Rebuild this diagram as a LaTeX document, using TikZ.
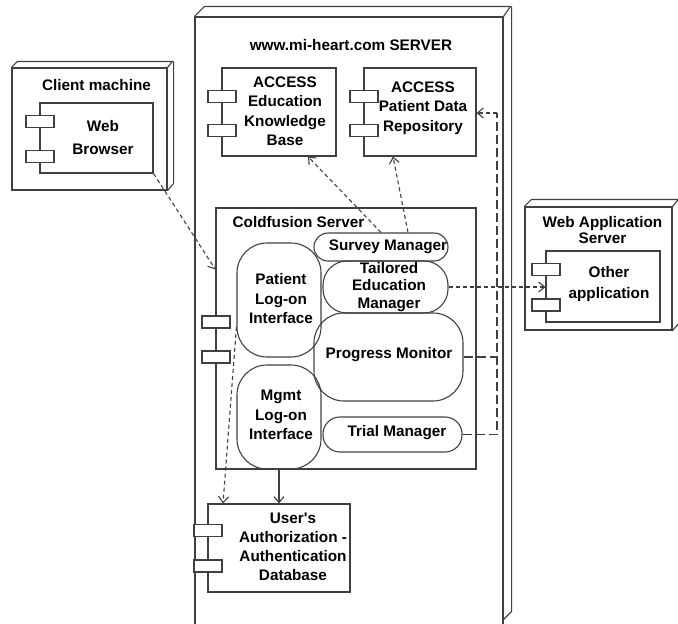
\documentclass[tikz,border=0pt]{standalone}
\usepackage{fontspec}
\setmainfont{Liberation Sans}
\usetikzlibrary{arrows.meta,positioning,calc}

\begin{document}
\begin{tikzpicture}[
    x=1pt, y=-1pt,
    lbl/.style={font=\bfseries\fontsize{15.3}{19.5}\selectfont, align=center, inner sep=0pt},
    face/.style={draw=black!75, line width=1.1pt},
    comp/.style={rectangle, draw=black!75, line width=1.1pt, inner sep=0pt},
    part/.style={rectangle, draw=black!75, line width=1.1pt, inner sep=0pt},
    tab/.style={rectangle, draw=black!75, fill=white, line width=1.1pt, minimum width=28, minimum height=12, inner sep=0pt},
    mgr/.style={rectangle, draw=black!75, line width=1.1pt, inner sep=0pt},
    dep/.style={-{Straight Barb[length=6pt,width=10pt]}, draw=black!75, line width=1.1pt, dash pattern=on 4pt off 3pt},
    link/.style={draw=black!75, line width=1.1pt, dash pattern=on 9pt off 4pt},
    use/.style={-{Straight Barb[length=6pt,width=10pt]}, draw=black!75, line width=1.1pt}
]
    \useasboundingbox (0,0) rectangle (678,624);

    % === Server node (3D box) ===
    \node[comp, minimum width=308, minimum height=623] (srv) at (349,328.5) {};
    \draw[face] (srv.north west) -- ++(10,-10) -- ++(306,0) -- (srv.north east);
    \draw[face] (srv.north east) ++(8,-10) -- ++(0,605) -- ++(-8,8);
    \node[lbl] (srv-title) at (351,45) {www.mi-heart.com SERVER};

    % ACCESS components
    \node[part, minimum width=114, minimum height=88] (edu) at (279,112) {};
    \node[tab] (edu-t1) at (222,96.5) {};
    \node[tab] (edu-t2) at (222,130.5) {};
    \node[lbl] (edu-lbl) at (285,111) {ACCESS\\Education\\Knowledge\\Base};

    \node[part, minimum width=112, minimum height=88] (pdr) at (420,112) {};
    \node[tab] (pdr-t1) at (364,96.5) {};
    \node[tab] (pdr-t2) at (364,130.5) {};
    \node[lbl] (pdr-lbl) at (423,108) {ACCESS\\Patient Data\\Repository};

    % === Coldfusion Server component ===
    \node[part, minimum width=260, minimum height=261] (cf) at (346,338.5) {};
    \node[tab] (cf-t1) at (216,322) {};
    \node[tab] (cf-t2) at (216,357) {};
    \node[lbl] (cf-title) at (298.5,222) {Coldfusion Server};

    % log-on interfaces
    \node[mgr, rounded corners=30, minimum width=84, minimum height=114] (plo) at (279,300) {};
    \node[lbl] (plo-lbl) at (281,299) {Patient\\Log-on\\Interface};
    \node[mgr, rounded corners=30, minimum width=84, minimum height=104] (mlo) at (279,417) {};
    \node[lbl] (mlo-lbl) at (281,415) {Mgmt\\Log-on\\Interface};

    % managers
    \node[mgr, rounded corners=14, minimum width=134, minimum height=28] (svm) at (381,247) {};
    \node[lbl] (svm-lbl) at (388,247) {Survey Manager};
    \node[mgr, rounded corners=24, minimum width=125, minimum height=52] (tem) at (385.5,287) {};
    \node[lbl, font=\bfseries\fontsize{15.3}{17.5}\selectfont] (tem-lbl) at (389,287) {Tailored\\Education\\Manager};
    \node[mgr, rounded corners=30, minimum width=149, minimum height=88] (pm) at (388.5,357) {};
    \node[lbl] (pm-lbl) at (389,355) {Progress Monitor};
    \node[mgr, rounded corners=17, minimum width=139, minimum height=35] (trm) at (392.5,434.5) {};
    \node[lbl] (trm-lbl) at (397,433) {Trial Manager};

    % === Authorization database ===
    \node[part, minimum width=142, minimum height=88] (db) at (279,548) {};
    \node[tab] (db-t1) at (208,530.5) {};
    \node[tab] (db-t2) at (208,566) {};
    \node[lbl, font=\bfseries\fontsize{15.3}{19}\selectfont] (db-lbl) at (293,547) {User\textquotesingle s\\Authorization -\\Authentication\\Database};

    % === Client machine (3D box) ===
    \node[comp, minimum width=155, minimum height=122] (client) at (89.5,129) {};
    \draw[face] (client.north west) -- ++(6,-6) -- ++(155,0) -- (client.north east);
    \draw[face] (client.north east) ++(6,-6) -- ++(0,122) -- (client.south east);
    \node[lbl] (client-title) at (96.5,85) {Client machine};

    \node[part, minimum width=113, minimum height=70] (web) at (96.5,138) {};
    \node[tab] (web-t1) at (40,121.5) {};
    \node[tab] (web-t2) at (40,156.5) {};
    \node[lbl, font=\bfseries\fontsize{15.3}{23}\selectfont] (web-lbl) at (103,138) {Web\\Browser};

    % === Web Application Server (3D box) ===
    \node[comp, minimum width=147, minimum height=123] (was) at (598.5,268.5) {};
    \draw[face] (was.north west) -- ++(7,-7) -- ++(147,0) -- (was.north east);
    \draw[face] (was.north east) ++(7,-7) -- ++(0,123) -- (was.south east);
    \node[lbl, font=\bfseries\fontsize{15.3}{16.5}\selectfont] (was-title) at (602.5,230) {Web Application\\Server};

    \node[part, minimum width=114, minimum height=71] (oth) at (603,286.5) {};
    \node[tab] (oth-t1) at (546,269.5) {};
    \node[tab] (oth-t2) at (546,305) {};
    \node[lbl, font=\bfseries\fontsize{15.3}{21}\selectfont] (oth-lbl) at (609,284) {Other\\application};

    % === Dependencies ===
    \draw[dep] (web.south east) -- ([yshift=-62pt]cf.north west);
    \draw[dep] (svm.north) -- ([xshift=29pt]edu.south);
    \draw[dep] ([xshift=27pt]svm.north) -- ([xshift=-27pt]pdr.south);
    \draw[dep] (tem.east) -- (tem.east -| oth.west);

    \coordinate (bend) at (497,113);
    \draw[link] (pm.east) -- (pm.east -| bend);
    \draw[link] (trm.east) -| (bend);
    \draw[dep] (bend) -- (bend -| pdr.east);

    \draw[use] (mlo.south) -- (db.north);
    \draw[dep] ([yshift=-27pt]plo.west) -- ([xshift=-56pt]db.north);
\end{tikzpicture}
\end{document}
